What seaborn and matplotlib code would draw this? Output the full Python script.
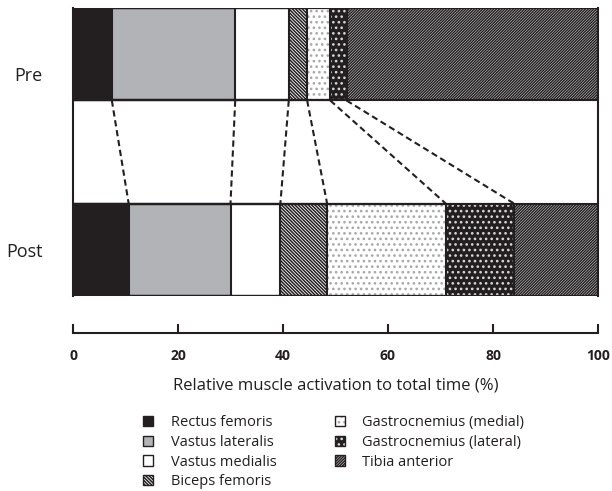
import matplotlib
matplotlib.use("Agg")
import matplotlib.pyplot as plt
import matplotlib.patches as mpatches
from matplotlib.legend_handler import HandlerTuple
import numpy as np
import pandas as pd
import seaborn as sns

# Share of total activation time per muscle (%), before and after training
phases = ["Pre", "Post"]
muscles = ["Rectus femoris", "Vastus lateralis", "Vastus medialis", "Biceps femoris",
           "Gastrocnemius (medial)", "Gastrocnemius (lateral)", "Tibia anterior"]
pre_share = [7.4, 23.5, 10.2, 3.5, 4.4, 3.1, 47.9]
post_share = [10.6, 19.4, 9.5, 8.9, 22.6, 13.0, 16.0]
x_ticks = [0, 20, 40, 60, 80, 100]
x_label = "Relative muscle activation to total time (%)"

DARK = "#231f20"
face_colors = [DARK, "#b1b3b6", "#ffffff", "#ffffff", "#ffffff", DARK, "#ffffff"]
hatch_colors = [DARK, DARK, DARK, DARK, "#a8a8a8", "#d8d8d8", DARK]
hatches = [None, None, None, "\\" * 10, "...", "...", "/" * 12]

sns.set_style("white")
plt.rcParams["font.family"] = ["Open Sans", "DejaVu Sans"]
plt.rcParams["hatch.linewidth"] = 1.1

# cumulative right edge of each segment
pre_cum = np.cumsum(pre_share)
post_cum = np.cumsum(post_share)
rows = []
for i, m in enumerate(muscles):
    rows.append({"muscle": m, "phase": "Pre", "end": pre_cum[i]})
    rows.append({"muscle": m, "phase": "Post", "end": post_cum[i]})
df = pd.DataFrame(rows)

fig = plt.figure(figsize=(6.12, 4.91), dpi=100)
ax = fig.add_axes([73 / 612, 1 - 296 / 491, 525 / 612, 288 / 491])

bar_w = 0.473

# filled / hatched layers, widest first so each shorter one sits on top
for i in reversed(range(len(muscles))):
    sub = df[df["muscle"] == muscles[i]]
    sns.barplot(data=sub, x="end", y="phase", order=phases, orient="h",
                color=face_colors[i], edgecolor=hatch_colors[i], hatch=hatches[i],
                linewidth=0, width=bar_w, saturation=1, errorbar=None, ax=ax)

# segment outlines
for i in reversed(range(len(muscles))):
    sub = df[df["muscle"] == muscles[i]]
    sns.barplot(data=sub, x="end", y="phase", order=phases, orient="h",
                color=DARK, fill=False, linewidth=1.5, width=bar_w,
                saturation=1, errorbar=None, ax=ax)

# dashed connectors between matching boundaries
for i in range(len(muscles) - 1):
    ax.plot([pre_cum[i], post_cum[i]], [bar_w / 2, 1 - bar_w / 2],
            color=DARK, lw=1.5, ls=(0, (3, 1.8)), solid_capstyle="butt")

ax.spines["top"].set_visible(False)
for side in ["left", "right", "bottom"]:
    ax.spines[side].set_color(DARK)
    ax.spines[side].set_linewidth(1.5)
ax.spines["bottom"].set_position(("outward", 26.6))
ax.grid(False)

ax.set_xlim(0, 100)
ax.set_ylim(1 + bar_w / 2, -bar_w / 2)
ax.set_yticks([0.1, 1.0])
ax.set_yticklabels(phases)
ax.set_ylabel("")
ax.set_xticks(x_ticks)
ax.set_xticklabels([str(t) for t in x_ticks])
ax.set_xlabel(x_label, fontsize=12, labelpad=10.5, color=DARK)

ax.tick_params(axis="y", length=0, pad=22, labelsize=13, labelcolor=DARK)
ax.tick_params(axis="x", bottom=True, direction="in", length=6.5, width=1.5,
               pad=11.5, labelsize=10, color=DARK, labelcolor=DARK)
for lbl in ax.get_xticklabels():
    lbl.set_fontweight("bold")

# legend
handles = []
for i in range(len(muscles)):
    fill = mpatches.Patch(facecolor=face_colors[i], edgecolor=hatch_colors[i],
                          hatch=hatches[i], linewidth=0)
    outline = mpatches.Patch(facecolor="none", edgecolor=DARK, linewidth=1.0)
    handles.append((fill, outline))
fig.legend(handles, muscles, handler_map={tuple: HandlerTuple(ndivide=1)},
           loc="upper left", bbox_to_anchor=(143 / 612, 1 - 415 / 491),
           ncol=2, frameon=False, fontsize=10.5, borderaxespad=0, borderpad=0,
           handlelength=0.7, handleheight=0.7, handletextpad=1.2,
           columnspacing=4.0, labelspacing=0.33, labelcolor=DARK)

fig.savefig("out.png", dpi=100)
